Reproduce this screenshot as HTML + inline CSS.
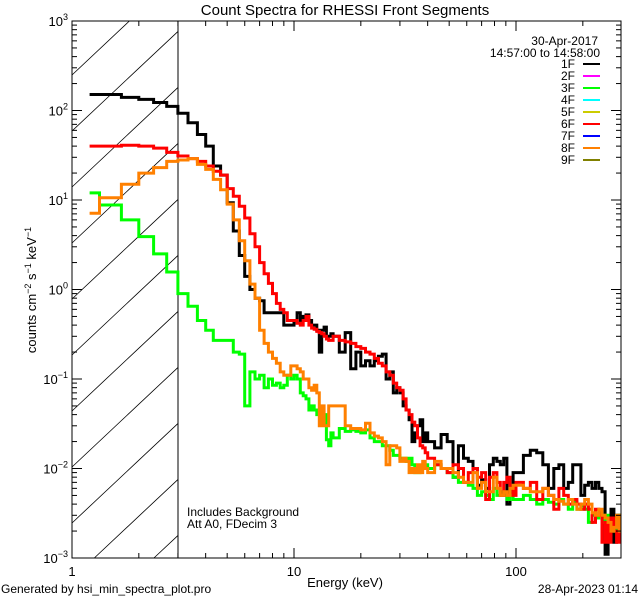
<!DOCTYPE html>
<html><head><meta charset="utf-8"><style>
html,body{margin:0;padding:0;background:#fff;width:640px;height:600px;overflow:hidden;}
svg{display:block;font-family:"Liberation Sans",sans-serif;}
</style></head><body>
<svg id="chart" width="640" height="600" viewBox="0 0 640 600" xmlns="http://www.w3.org/2000/svg">
<rect x="0" y="0" width="640" height="600" fill="#fff"/>
<text x="345" y="15" font-size="15" text-anchor="middle">Count Spectra for RHESSI Front Segments</text>
<defs><clipPath id="plotclip"><rect x="72" y="21" width="549" height="537"/></clipPath></defs>
<g id="hatch"></g>
<line x1="178" y1="21" x2="178" y2="558" stroke="#000" stroke-width="1"/>
<g id="series" clip-path="url(#plotclip)"></g>
<rect x="72" y="21" width="549" height="537" fill="none" stroke="#000" stroke-width="1"/>
<g id="axes"></g>
<text transform="translate(36,290) rotate(-90)" font-size="13" text-anchor="middle">counts cm<tspan font-size="9" dy="-5">−2</tspan><tspan dy="5"> s</tspan><tspan font-size="9" dy="-5">−1</tspan><tspan dy="5"> keV</tspan><tspan font-size="9" dy="-5">−1</tspan></text>
<text x="345" y="587" font-size="13" text-anchor="middle">Energy (keV)</text>
<text x="187" y="516" font-size="12">Includes Background</text>
<text x="187" y="528" font-size="12">Att A0, FDecim 3</text>
<text x="1" y="593" font-size="12">Generated by hsi_min_spectra_plot.pro</text>
<text x="638" y="593" font-size="12" text-anchor="end">28-Apr-2023 01:14</text>
<text x="598" y="45" font-size="12" text-anchor="end">30-Apr-2017</text>
<text x="600" y="57" font-size="12" text-anchor="end">14:57:00 to 14:58:00</text>
<g id="legend"></g>
</svg>
<script>
const edges = [1.2,1.33,1.67,2.0,2.33,2.67,3.0,3.33,3.67,4.0,4.33,4.67,5.0,5.33,5.67,6.0,6.33,6.67,7.0,7.33,7.67,8.0,8.33,8.67,9.0,9.33,9.67,10,10.33,10.67,11,11.33,11.67,12,12.33,12.67,13,13.33,13.67,14,14.33,14.67,
15,16,17,18,19,20,21,22,23,24,25,26,27,28,29,30,31,32,33,34,35,36,37,38,39,
40,43,46,49,52,55,58,61,64,67,70,73,76,79,82,85,88,91,94,97,
100,108,116,124,132,140,148,156,164,172,180,188,196,204,212,220,228,236,244,252,260,268,276,284,292,300];
const seg1F = [151,151,140,133,123,111,93,73,54,40,24,19,9.3,4.5,2.4,1.4,1.0,0.8,0.75,0.55,0.55,0.55,0.55,0.55,0.4,0.4,0.4,0.45,0.55,0.45,0.5,0.52,0.45,0.4,0.4,0.35,0.2,0.35,0.38,0.3,0.3,0.32,
0.3,0.2,0.33,0.13,0.2,0.14,0.16,0.14,0.16,0.18,0.19,0.1,0.12,0.07,0.08,0.07,0.05,0.045,0.035,0.02,0.025,0.03,0.035,0.02,0.025,
0.02,0.017,0.024,0.02,0.008,0.018,0.013,0.012,0.01,0.0065,0.0075,0.006,0.011,0.013,0.012,0.011,0.013,0.004,0.005,0.009,
0.009,0.014,0.016,0.015,0.011,0.006,0.01,0.011,0.006,0.007,0.011,0.011,0.005,0.0065,0.007,0.006,0.007,0.006,0.0055,0.0011,0.002,0.0035,0.0015,0.003,0.002];
const seg3F = [12,8.8,6,3.9,2.5,1.57,0.9,0.65,0.45,0.35,0.27,0.27,0.27,0.2,0.19,0.05,0.12,0.1,0.11,0.08,0.1,0.085,0.09,0.08,0.085,0.11,0.1,0.11,0.1,0.07,0.065,0.06,0.045,0.05,0.045,0.04,0.04,0.035,0.04,0.021,0.018,0.025,
0.022,0.028,0.026,0.027,0.026,0.025,0.027,0.022,0.02,0.02,0.018,0.018,0.016,0.014,0.014,0.013,0.013,0.012,0.013,0.011,0.009,0.009,0.01,0.01,0.011,
0.01,0.011,0.01,0.009,0.008,0.007,0.007,0.0065,0.006,0.005,0.0055,0.005,0.0045,0.006,0.005,0.0055,0.005,0.0045,0.005,0.0045,
0.0045,0.005,0.0045,0.004,0.0045,0.0042,0.004,0.0045,0.004,0.0035,0.0042,0.0035,0.0038,0.0035,0.0025,0.003,0.0028,0.0032,0.0025,0.003,0.0028,0.0025,0.002,0.0028,0.003];
const seg6F = [40,40,41,40,38,34,31,29,27,24,21,19,13.4,11,8.5,6.3,4.2,3.0,2.0,1.5,1.17,0.9,0.7,0.6,0.55,0.45,0.45,0.45,0.42,0.4,0.45,0.5,0.4,0.37,0.36,0.34,0.33,0.32,0.3,0.28,0.27,0.27,
0.3,0.27,0.26,0.25,0.23,0.22,0.2,0.19,0.17,0.15,0.14,0.12,0.11,0.09,0.08,0.075,0.06,0.045,0.04,0.033,0.03,0.022,0.018,0.017,0.015,
0.013,0.011,0.01,0.009,0.011,0.01,0.007,0.009,0.01,0.008,0.009,0.0045,0.008,0.009,0.007,0.005,0.007,0.008,0.006,0.005,
0.007,0.006,0.007,0.0045,0.006,0.005,0.0035,0.006,0.005,0.004,0.0045,0.004,0.0035,0.004,0.0035,0.0025,0.0035,0.003,0.0015,0.0025,0.0015,0.0028,0.002,0.0015,0.0022];
const seg8F = [7.1,10.6,15,20,23,27,28,29,25,22,17,13,9,6,3.5,2.1,1.15,0.8,0.35,0.25,0.2,0.17,0.15,0.12,0.11,0.11,0.14,0.14,0.13,0.12,0.1,0.1,0.08,0.075,0.085,0.07,0.03,0.05,0.03,0.03,0.05,0.05,
0.05,0.05,0.03,0.028,0.028,0.027,0.032,0.025,0.023,0.022,0.02,0.011,0.018,0.018,0.017,0.012,0.013,0.012,0.009,0.01,0.009,0.011,0.009,0.012,0.01,
0.009,0.012,0.01,0.01,0.009,0.008,0.007,0.007,0.009,0.006,0.007,0.0055,0.0055,0.008,0.006,0.005,0.0055,0.005,0.006,0.0065,
0.0065,0.006,0.0055,0.0055,0.006,0.005,0.0045,0.0043,0.004,0.0045,0.004,0.0035,0.004,0.0045,0.004,0.0032,0.003,0.0035,0.003,0.0028,0.0025,0.002,0.0022,0.003,0.002];
const legendLabels = ["1F","2F","3F","4F","5F","6F","7F","8F","9F"];
const legendColors = ["#000000","#ff00ff","#00ff00","#00ffff","#cccc00","#ff0000","#0000ff","#ff8000","#808000"];
const yTickExps = [3,2,1,0,-1,-2,-3];
const xTickLabels = [1,10,100];

const NS="http://www.w3.org/2000/svg";
const L=72,R=621,T=21,B=558;
const xMin=1,xMax=Math.pow(10,(R-L)/222);
function xs(e){return L+(Math.log10(e)-Math.log10(xMin))/(Math.log10(xMax)-Math.log10(xMin))*(R-L);}
function ys(v){return T+(3-Math.log10(v))/6*(B-T);}
function mk(tag,attrs,parent){const el=document.createElementNS(NS,tag);for(const k in attrs)el.setAttribute(k,attrs[k]);parent.appendChild(el);return el;}

// hatch lines, computed within the box x in [72,178], y in [21,558]
const hatch=document.getElementById('hatch');
const HX0=72,HX1=178,SL=0.94;
for(let c=-400;c<700;c+=56){
  const y0=83+c; // y at x=HX0 ; y(x)=y0-SL*(x-HX0)
  let xa=HX0, xb=HX1;
  xa=Math.max(xa, HX0+(y0-B)/SL);
  xb=Math.min(xb, HX0+(y0-T)/SL);
  if(xb<=xa) continue;
  const ln=mk('line',{x1:xa.toFixed(1),y1:(y0-SL*(xa-HX0)).toFixed(1),x2:xb.toFixed(1),y2:(y0-SL*(xb-HX0)).toFixed(1),stroke:'#000','stroke-width':0.8},hatch);
  
  
}

const series=document.getElementById('series');
function drawSeries(vals,color,name){
  let d='';
  for(let i=0;i<vals.length;i++){
    const x0=xs(edges[i]),x1=Math.min(xs(edges[i+1]),R),y=Math.min(ys(vals[i]),B);
    d+=(i===0?'M':'L')+x0.toFixed(1)+','+y.toFixed(1)+'L'+x1.toFixed(1)+','+y.toFixed(1);
  }
  const p=mk('path',{d:d,fill:'none',stroke:color,'stroke-width':3,'stroke-linejoin':'miter'},series);
  
  
}
drawSeries(seg1F,'#000000','series-1f');
drawSeries(seg3F,'#00ff00','series-3f');
drawSeries(seg6F,'#ff0000','series-6f');
drawSeries(seg8F,'#ff8000','series-8f');

const axes=document.getElementById('axes');
for(let dec=0;dec<3;dec++){
  for(let m=1;m<10;m++){
    const e=m*Math.pow(10,dec); if(e>xMax) break;
    const x=xs(e),len=(m===1?10:5);
    const t1=mk('line',{x1:x,y1:B,x2:x,y2:B-len,stroke:'#000','stroke-width':1},axes);
    
    
    const t2=mk('line',{x1:x,y1:T,x2:x,y2:T+len,stroke:'#000','stroke-width':1},axes);
    
    
  }
}
xTickLabels.forEach(v=>{
  const t=mk('text',{x:xs(v),y:576,'font-size':13,'text-anchor':'middle'},axes);
  t.textContent=String(v);
  
  
});
for(let p=-3;p<3;p++){
  for(let m=1;m<10;m++){
    const v=m*Math.pow(10,p),y=ys(v),len=(m===1?10:5);
    const a=mk('line',{x1:L,y1:y,x2:L+len,y2:y,stroke:'#000','stroke-width':1},axes);
    
    
    const b=mk('line',{x1:R,y1:y,x2:R-len,y2:y,stroke:'#000','stroke-width':1},axes);
    
    
  }
}
yTickExps.forEach(p=>{
  const y=ys(Math.pow(10,p));
  const t=mk('text',{x:68,y:y+5,'font-size':13,'text-anchor':'end'},axes);
  
  
  const base=document.createElementNS(NS,'tspan');base.textContent='10';t.appendChild(base);
  const sup=document.createElementNS(NS,'tspan');sup.setAttribute('font-size','9');sup.setAttribute('dy','-6');
  sup.textContent=(p<0?'−':'')+Math.abs(p);t.appendChild(sup);
});

const lg=document.getElementById('legend');
legendLabels.forEach((lab,i)=>{
  const y=64+i*12;
  const t=mk('text',{x:575,y:y+4,'font-size':12,'text-anchor':'end'},lg);
  t.textContent=lab;
  
  
  const l=mk('line',{x1:583,y1:y,x2:600,y2:y,stroke:legendColors[i],'stroke-width':2},lg);
  
  
});
</script>
</body></html>
